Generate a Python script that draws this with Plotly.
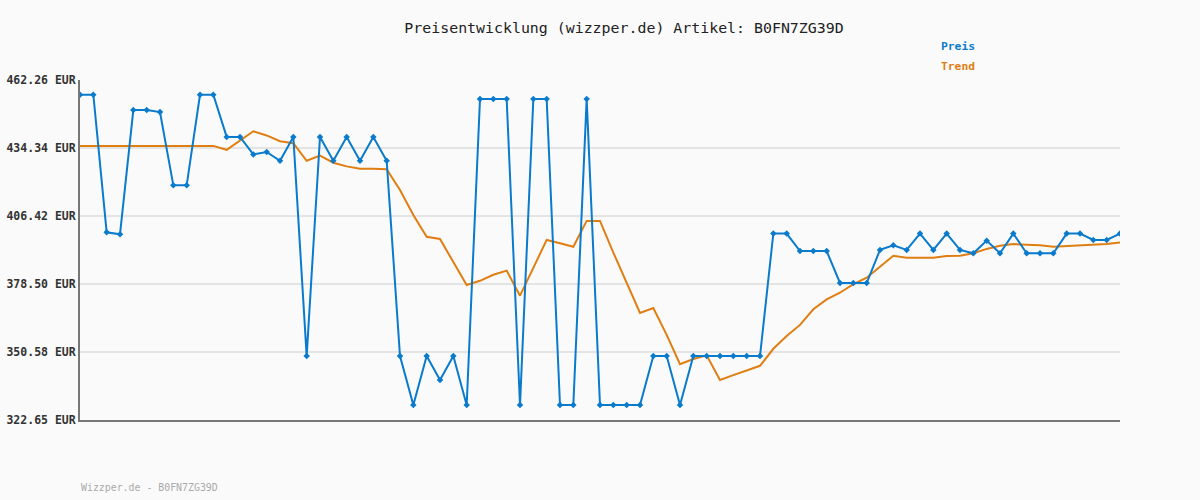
import plotly.graph_objects as go

title_text = "Preisentwicklung (wizzper.de) Artikel: B0FN7ZG39D"
footer_text = "Wizzper.de - B0FN7ZG39D"

preis = [456.2, 456.2, 399.7, 398.9, 449.9, 449.9, 449.1, 419.0, 419.0, 456.2,
         456.2, 438.9, 438.9, 431.7, 432.7, 429.1, 438.9, 348.9, 438.9, 429.1,
         438.9, 429.1, 438.9, 429.1, 348.9, 328.8, 348.9, 339.1, 348.9, 328.8,
         454.5, 454.5, 454.5, 328.8, 454.5, 454.5, 328.8, 328.8, 454.5, 328.8,
         328.8, 328.8, 328.8, 348.9, 348.9, 328.8, 348.9, 348.9, 348.9, 348.9,
         348.9, 348.9, 399.2, 399.2, 392.0, 392.0, 392.0, 378.9, 378.9, 378.9,
         392.5, 394.4, 392.5, 399.2, 392.5, 399.2, 392.5, 391.1, 396.3, 391.1,
         399.2, 391.1, 391.1, 391.1, 399.2, 399.2, 396.6, 396.6, 399.2]

trend = [435.2, 435.2, 435.2, 435.2, 435.2, 435.2, 435.2, 435.2, 435.2, 435.2,
         435.2, 433.6, 437.4, 441.2, 439.5, 437.1, 436.3, 429.1, 431.2, 428.3,
         426.8, 425.8, 425.8, 425.6, 417.1, 406.8, 397.9, 397.0, 387.5, 378.1,
         379.8, 382.3, 384.0, 373.7, 385.1, 396.6, 395.2, 393.8, 404.4, 404.4,
         391.4, 379.1, 366.6, 368.6, 357.6, 345.6, 347.7, 349.2, 339.1, 341.1,
         343.1, 344.9, 351.9, 357.1, 361.7, 368.1, 372.2, 374.9, 378.4, 381.1,
         385.6, 390.1, 389.3, 389.3, 389.3, 390.0, 390.1, 391.1, 392.9, 394.2,
         394.9, 394.6, 394.4, 393.8, 394.1, 394.1, 394.4, 394.9, 395.5]

tick_vals = [322.65, 350.58, 378.50, 406.42, 434.34, 462.26]
tick_text = ["322.65 EUR", "350.58 EUR", "378.50 EUR", "406.42 EUR", "434.34 EUR", "462.26 EUR"]

x = list(range(len(preis)))

BLUE = "#0a7bcc"
ORANGE = "#e07e12"
MONO = "DejaVu Sans Mono"

fig = go.Figure()
fig.add_trace(go.Scatter(x=x, y=trend, mode="lines", name="Trend",
                         line=dict(color=ORANGE, width=2)))
fig.add_trace(go.Scatter(x=x, y=preis, mode="lines+markers", name="Preis",
                         line=dict(color=BLUE, width=2),
                         marker=dict(symbol="diamond", size=5, color=BLUE)))

fig.update_layout(
    width=1200, height=500,
    margin=dict(l=80, r=80, t=80, b=80, autoexpand=False),
    paper_bgcolor="#fafafa", plot_bgcolor="#fafafa",
    showlegend=False,
    font=dict(family=MONO, color="#333333"),
    title=dict(text=title_text, x=0.52, xanchor="center", y=0.944, yanchor="middle",
               font=dict(family=MONO, size=14.9, color="#222222")),
    xaxis=dict(range=[0, len(preis) - 1], showgrid=False, zeroline=False,
               showticklabels=False, ticks="", showline=True, linecolor="#777777",
               linewidth=2),
    yaxis=dict(range=[322.65, 462.26], tickvals=tick_vals, ticktext=tick_text,
               showgrid=True, gridcolor="#e4e4e4", gridwidth=2, zeroline=False,
               showline=True, linecolor="#777777", linewidth=2, ticks="",
               ticklabelstandoff=0,
               tickfont=dict(family=MONO, size=11.5, color="#333333", weight="bold")),
    annotations=[
        dict(text="<b>Preis</b>", x=939, y=47, xref="paper", yref="paper",
             showarrow=False, font=dict(family=MONO, size=11.3, color=BLUE),
             xanchor="left", yanchor="middle"),
        dict(text="<b>Trend</b>", x=939, y=67, xref="paper", yref="paper",
             showarrow=False, font=dict(family=MONO, size=11.3, color=ORANGE),
             xanchor="left", yanchor="middle"),
        dict(text=footer_text, x=79, y=487, xref="paper", yref="paper",
             showarrow=False, font=dict(family=MONO, size=9.9, color="#aaaaaa"),
             xanchor="left", yanchor="middle"),
    ],
)

# convert pixel positions of annotations to paper coordinates
W, H = 1200, 500
pw, ph = W - 160, H - 160
for a in fig.layout.annotations:
    a.x = (a.x - 80) / pw
    a.y = (H - 80 - a.y) / ph

fig.write_html("out.html", config={"displayModeBar": False},
               post_script="document.body.style.margin='0';document.body.style.background='#fafafa';")
